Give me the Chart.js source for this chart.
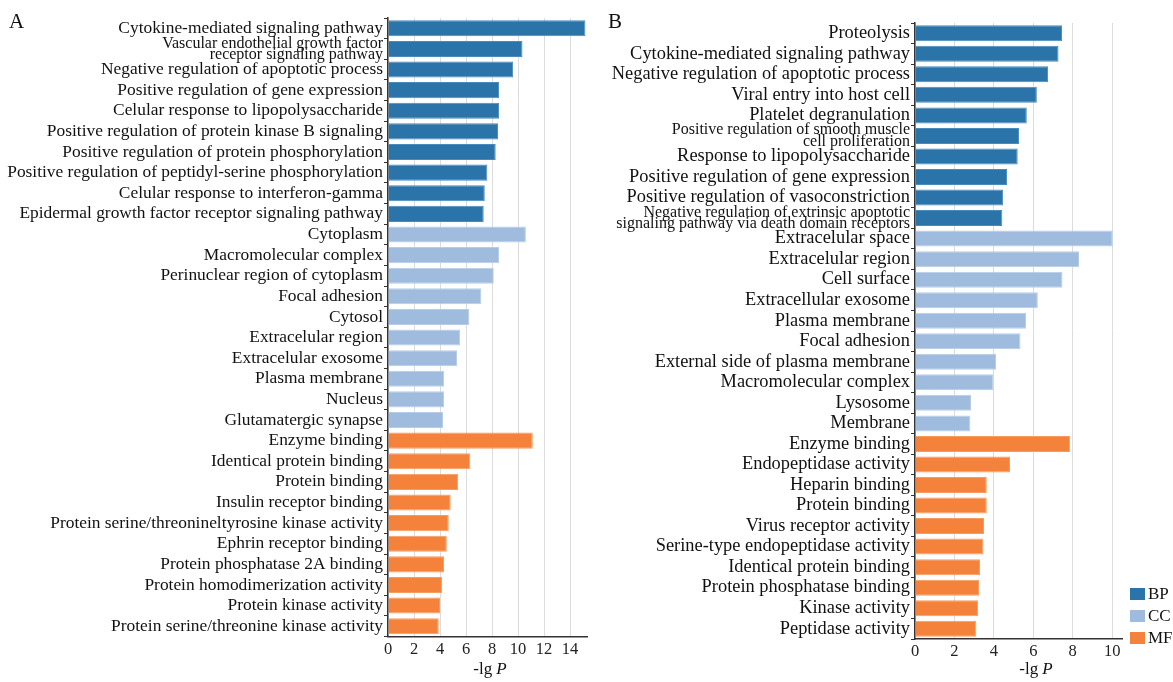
<!DOCTYPE html>
<html lang="en">

<head>
    <meta charset="UTF-8">
    <script src="https://cdn.jsdelivr.net/npm/chart.js"></script>
    <title>GO enrichment</title>
    <style>
        body { margin: 0; background: #fff; }
        #page { position: relative; width: 1173px; height: 682px; overflow: hidden;
                font-family: 'Liberation Serif', 'Times New Roman', serif; color: #111; }
        .panel { position: absolute; top: 0; height: 682px; }
        #panelA { left: 0; width: 600px; }
        #panelB { left: 600px; width: 573px; }
        .tag { position: absolute; top: 9px; font-size: 21px; }
        .axis-title { position: absolute; top: 659px; font-size: 17px; white-space: nowrap; transform: translateX(-50%); }
        .axis-title i { margin-left: 4px; }
        .legend { position: absolute; left: 1130px; top: 583px; font-size: 17px; }
        .legend div { height: 22px; display: flex; align-items: center; }
        .legend span.box { display: inline-block; width: 15px; height: 12px; margin-right: 3px; }
    </style>
</head>

<body>
    <div id="page">
        <div class="panel" id="panelA"><canvas id="chartA"></canvas></div>
        <div class="panel" id="panelB"><canvas id="chartB"></canvas></div>
        <div class="tag" style="left: 9px;">A</div>
        <div class="tag" style="left: 608px;">B</div>
        <div class="axis-title" style="left: 490px;">-lg<i>P</i></div>
        <div class="axis-title" style="left: 1036px;">-lg<i>P</i></div>
        <div class="legend">
            <div><span class="box" style="background:#2b74a9"></span>BP</div>
            <div><span class="box" style="background:#9fbcdf"></span>CC</div>
            <div><span class="box" style="background:#f5823a"></span>MF</div>
        </div>
    </div>

    <script>
        // Panel A terms and -lg P values
        const termsBP_A = ['Cytokine-mediated signaling pathway',
            ['Vascular endothelial growth factor', 'receptor signaling pathway'],
            'Negative regulation of apoptotic process', 'Positive regulation of gene expression',
            'Celular response to lipopolysaccharide', 'Positive regulation of protein kinase B signaling',
            'Positive regulation of protein phosphorylation', 'Positive regulation of peptidyl-serine phosphorylation',
            'Celular response to interferon-gamma', 'Epidermal growth factor receptor signaling pathway'];
        const valuesBP_A = [15.18, 10.34, 9.62, 8.54, 8.54, 8.46, 8.28, 7.64, 7.44, 7.36];

        const termsCC_A = ['Cytoplasm', 'Macromolecular complex', 'Perinuclear region of cytoplasm', 'Focal adhesion',
            'Cytosol', 'Extracelular region', 'Extracelular exosome', 'Plasma membrane', 'Nucleus', 'Glutamatergic synapse'];
        const valuesCC_A = [10.6, 8.54, 8.13, 7.18, 6.26, 5.54, 5.31, 4.31, 4.31, 4.23];

        const termsMF_A = ['Enzyme binding', 'Identical protein binding', 'Protein binding', 'Insulin receptor binding',
            'Protein serine/threonineltyrosine kinase activity', 'Ephrin receptor binding', 'Protein phosphatase 2A binding',
            'Protein homodimerization activity', 'Protein kinase activity', 'Protein serine/threonine kinase activity'];
        const valuesMF_A = [11.13, 6.33, 5.38, 4.82, 4.67, 4.52, 4.31, 4.15, 4.0, 3.9];

        // Panel B terms and -lg P values
        const termsBP_B = ['Proteolysis', 'Cytokine-mediated signaling pathway', 'Negative regulation of apoptotic process',
            'Viral entry into host cell', 'Platelet degranulation',
            ['Positive regulation of smooth muscle', 'cell proliferation'],
            'Response to lipopolysaccharide', 'Positive regulation of gene expression',
            'Positive regulation of vasoconstriction',
            ['Negative regulation of extrinsic apoptotic', 'signaling pathway via death domain receptors']];
        const valuesBP_B = [7.46, 7.28, 6.75, 6.18, 5.67, 5.28, 5.21, 4.67, 4.47, 4.43];

        const termsCC_B = ['Extracelular space', 'Extracelular region', 'Cell surface', 'Extracellular exosome',
            'Plasma membrane', 'Focal adhesion', 'External side of plasma membrane', 'Macromolecular complex',
            'Lysosome', 'Membrane'];
        const valuesCC_B = [10.03, 8.32, 7.48, 6.23, 5.63, 5.35, 4.11, 3.98, 2.84, 2.81];

        const termsMF_B = ['Enzyme binding', 'Endopeptidase activity', 'Heparin binding', 'Protein binding',
            'Virus receptor activity', 'Serine-type endopeptidase activity', 'Identical protein binding',
            'Protein phosphatase binding', 'Kinase activity', 'Peptidase activity'];
        const valuesMF_B = [7.87, 4.82, 3.64, 3.64, 3.50, 3.47, 3.30, 3.25, 3.20, 3.11];

        const xTickStep = 2;
        const colors = { BP: '#2b74a9', CC: '#9fbcdf', MF: '#f5823a' };
        const edge = { BP: '#4a8bbb', CC: '#b6cde8', MF: '#f89b60' };
        const serif = "'Liberation Serif', 'Times New Roman', serif";

        function drawPanel(id, groups, cfg) {
            const labels = [].concat(...groups.map(g => g.terms));
            const total = labels.length;
            let offset = 0;
            const datasets = groups.map(g => {
                // each ontology fills only its own rows, the rest stay empty
                const data = new Array(total).fill(null);
                g.values.forEach((v, i) => { data[offset + i] = v; });
                offset += g.values.length;
                return {
                    label: g.name,
                    data: data,
                    backgroundColor: colors[g.name],
                    borderColor: edge[g.name],
                    borderWidth: 1,
                    grouped: false,
                    barPercentage: 0.78,
                    categoryPercentage: 1
                };
            });

            return new Chart(document.getElementById(id), {
                type: 'bar',
                data: { labels: labels, datasets: datasets },
                options: {
                    indexAxis: 'y',
                    responsive: true,
                    maintainAspectRatio: false,
                    animation: false,
                    layout: { padding: { top: cfg.top, right: cfg.right, left: 0, bottom: 0 } },
                    plugins: { legend: { display: false }, tooltip: { enabled: false } },
                    scales: {
                        x: {
                            min: 0,
                            max: cfg.xMax,
                            afterFit: s => { s.height = 682 - cfg.bottom; },
                            ticks: {
                                stepSize: xTickStep,
                                includeBounds: false,
                                maxRotation: 0,
                                autoSkip: false,
                                padding: 3,
                                color: '#222',
                                font: { family: serif, size: 16.5 }
                            },
                            grid: { color: '#dcdcdc', lineWidth: 1, drawTicks: false },
                            border: { color: '#333', width: 1.5 }
                        },
                        y: {
                            afterFit: s => { s.width = cfg.yWidth; },
                            ticks: {
                                autoSkip: false,
                                padding: 1,
                                color: '#111',
                                // two-line terms are set smaller and tighter
                                font: ctx => Array.isArray(labels[ctx.index])
                                    ? { family: serif, size: cfg.wrapSize, lineHeight: cfg.wrapLine }
                                    : { family: serif, size: cfg.labelSize }
                            },
                            grid: { drawOnChartArea: false, drawTicks: true, tickLength: 4, color: '#333' },
                            border: { color: '#333', width: 1.5 }
                        }
                    }
                }
            });
        }

        drawPanel('chartA', [
            { name: 'BP', terms: termsBP_A, values: valuesBP_A },
            { name: 'CC', terms: termsCC_A, values: valuesCC_A },
            { name: 'MF', terms: termsMF_A, values: valuesMF_A }
        ], { yWidth: 388, xMax: 15.3, top: 18, right: 13, bottom: 636.5, labelSize: 17.4, wrapSize: 16, wrapLine: 0.68 });

        drawPanel('chartB', [
            { name: 'BP', terms: termsBP_B, values: valuesBP_B },
            { name: 'CC', terms: termsCC_B, values: valuesCC_B },
            { name: 'MF', terms: termsMF_B, values: valuesMF_B }
        ], { yWidth: 315, xMax: 10.5, top: 23, right: 51, bottom: 639, labelSize: 18.4, wrapSize: 16, wrapLine: 0.72 });
    </script>
</body>

</html>
